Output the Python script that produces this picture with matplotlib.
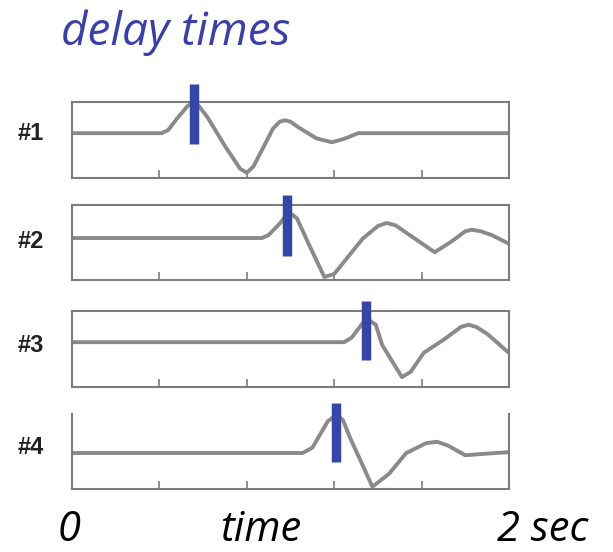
import matplotlib
matplotlib.use("Agg")
import matplotlib.pyplot as plt

# traces: time (s) and height as a fraction of each panel
t1 = [0, 0.41, 0.44, 0.48, 0.53, 0.555, 0.58, 0.62, 0.70, 0.77, 0.80, 0.83, 0.92, 0.95, 0.975, 1.00, 1.04, 1.12, 1.19, 1.25, 1.31, 2.0]
y1 = [0.59, 0.59, 0.63, 0.78, 0.95, 0.99, 0.95, 0.80, 0.42, 0.12, 0.07, 0.15, 0.65, 0.74, 0.76, 0.74, 0.66, 0.52, 0.47, 0.52, 0.59, 0.59]

t2 = [0, 0.87, 0.90, 0.95, 0.98, 1.0, 1.03, 1.08, 1.155, 1.20, 1.33, 1.40, 1.44, 1.48, 1.52, 1.66, 1.74, 1.80, 1.83, 1.87, 1.92, 1.995]
y2 = [0.56, 0.56, 0.60, 0.75, 0.86, 0.89, 0.82, 0.50, 0.04, 0.08, 0.55, 0.72, 0.76, 0.73, 0.65, 0.37, 0.52, 0.65, 0.67, 0.65, 0.60, 0.49]

t3 = [0, 1.245, 1.28, 1.33, 1.36, 1.39, 1.42, 1.51, 1.55, 1.61, 1.70, 1.78, 1.815, 1.85, 1.90, 1.995]
y3 = [0.59, 0.59, 0.65, 0.84, 0.88, 0.82, 0.55, 0.13, 0.20, 0.45, 0.62, 0.79, 0.82, 0.79, 0.70, 0.46]

t4 = [0, 1.055, 1.10, 1.17, 1.21, 1.24, 1.27, 1.375, 1.45, 1.53, 1.62, 1.67, 1.72, 1.80, 1.89, 1.995]
y4 = [0.48, 0.48, 0.55, 0.90, 0.99, 0.92, 0.70, 0.03, 0.20, 0.48, 0.61, 0.63, 0.58, 0.45, 0.47, 0.49]

traces = [(t1, y1), (t2, y2), (t3, y3), (t4, y4)]
labels = ["#1", "#2", "#3", "#4"]

# delay markers: time, bottom and top (panel fraction)
delay_t = [0.56, 0.986, 1.345, 1.21]
delay_lo = [0.45, 0.32, 0.36, 0.36]
delay_hi = [1.24, 1.13, 1.13, 1.15]

W, H = 613, 552
fig = plt.figure(figsize=(W / 100, H / 100), dpi=100)

# panel boxes in pixels: (top, bottom)
boxes = [(102, 178), (205, 280), (311, 387), (414, 489)]
label_y = [134, 242, 345, 448]
left_px, right_px = 72, 509

gray = "#8a8a8a"
spine = "#7c7c7c"
blue = "#3646a8"

for i in range(4):
    top, bot = boxes[i]
    ax = fig.add_axes([left_px / W, 1 - bot / H, (right_px - left_px) / W, (bot - top) / H])
    t, y = traces[i]
    ax.plot(t, y, color=gray, lw=2.8, solid_joinstyle="round")
    ax.vlines(delay_t[i], delay_lo[i], delay_hi[i], color=blue, lw=6.8, clip_on=False, zorder=5)
    ax.set_xlim(0, 2)
    ax.set_ylim(0, 1)
    ax.set_xticks([0.4, 0.8, 1.2, 1.6])
    ax.set_xticklabels([])
    ax.set_yticks([])
    ax.tick_params(axis="x", direction="in", length=6, width=1.2, color=spine)
    for s in ax.spines.values():
        s.set_color(spine)
        s.set_linewidth(1.5)
    if i == 3:
        ax.spines["top"].set_visible(False)
    fig.text(44 / W, 1 - label_y[i] / H, labels[i], ha="right", va="center",
             fontsize=17, fontweight="bold", family=["Liberation Sans Narrow", "Liberation Sans"],
             color="#222222")

fig.text(61 / W, 1 - 45 / H, "delay times", fontsize=33, style="italic",
         family="Open Sans", color="#3a40a8", va="baseline")

base = 1 - 541 / H
fig.text(58 / W, base, "0", fontsize=30, style="italic", family="Open Sans", va="baseline")
fig.text(220 / W, base, "time", fontsize=30, style="italic", family="Open Sans", va="baseline")
fig.text(497 / W, base, "2 sec", fontsize=30, style="italic", family="Open Sans", va="baseline")

fig.savefig("out.png", dpi=100)
